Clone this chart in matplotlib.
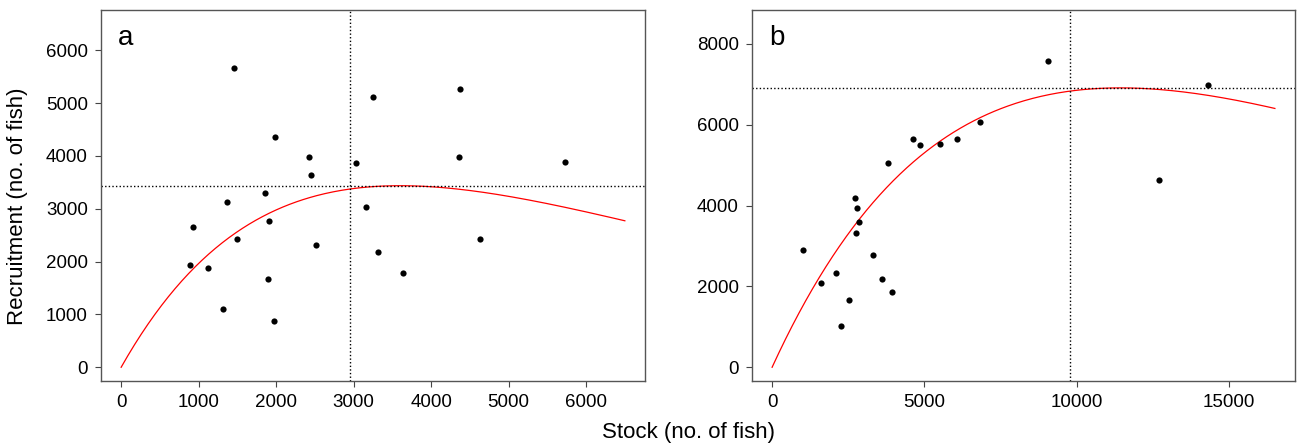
import numpy as np
import matplotlib.pyplot as plt

# Stock-recruitment data, population a
stock_a = [1450, 3250, 4370, 1985, 2425, 2445, 3035, 4360, 5730, 1850, 1370, 3160,
           930, 1905, 1495, 2520, 4630, 3315, 890, 1115, 3640, 1890, 1320, 1970]
recruit_a = [5670, 5110, 5260, 4350, 3980, 3630, 3870, 3980, 3875, 3300, 3120, 3030,
             2645, 2765, 2420, 2320, 2425, 2190, 1940, 1885, 1790, 1675, 1100, 875]

# Stock-recruitment data, population b
stock_b = [9040, 14290, 6820, 4640, 4850, 5525, 6060, 3815, 12685, 2715, 2785,
           2855, 2760, 1030, 3325, 2110, 1605, 3600, 3940, 2530, 2270]
recruit_b = [7580, 6980, 6060, 5655, 5500, 5530, 5660, 5045, 4640, 4190, 3940,
             3605, 3325, 2900, 2790, 2330, 2075, 2180, 1850, 1655, 1020]

# Ricker fits R = alpha * S * exp(-beta * S)
alpha_a, beta_a = 2.594, 1 / 3600.0
alpha_b, beta_b = 1.644, 1 / 11430.0

# reference lines (stock, recruitment)
vline_a, hline_a = 2950, 3436
vline_b, hline_b = 9760, 6914

xmax_a, xmax_b = 6500, 16500
xticks_a = [0, 1000, 2000, 3000, 4000, 5000, 6000]
yticks_a = [0, 1000, 2000, 3000, 4000, 5000, 6000]
xticks_b = [0, 5000, 10000, 15000]
yticks_b = [0, 2000, 4000, 6000, 8000]

plt.rcParams['font.family'] = ['Liberation Sans', 'DejaVu Sans']

fig = plt.figure(figsize=(12.98, 4.45), dpi=100)
ax1 = fig.add_axes([101 / 1298, 64 / 445, 544 / 1298, 371 / 445])
ax2 = fig.add_axes([752 / 1298, 64 / 445, 543 / 1298, 371 / 445])


def panel(ax, S, R, alpha, beta, xmax, vl, hl, xt, yt, ylim, letter):
    s = np.linspace(0, xmax, 300)
    ax.plot(s, alpha * s * np.exp(-beta * s), color='red', lw=0.9)
    ax.scatter(S, R, s=20, color='black', zorder=3, linewidths=0)
    ax.axvline(vl, color='black', lw=1.0, ls=(0, (1, 1.6)))
    ax.axhline(hl, color='black', lw=1.0, ls=(0, (1, 1.6)))
    pad_x = 0.04 * xmax
    pad_y = 0.04 * ylim
    ax.set_xlim(-pad_x, xmax + pad_x)
    ax.set_ylim(-pad_y, ylim + pad_y)
    ax.set_xticks(xt)
    ax.set_yticks(yt)
    ax.tick_params(direction='out', length=4.5, width=0.8, color='#444444',
                   labelsize=13.5, pad=5)
    for sp in ax.spines.values():
        sp.set_color('#555555')
        sp.set_linewidth(1.0)
    ax.text(0.031, 0.905, letter, transform=ax.transAxes, fontsize=20)


panel(ax1, stock_a, recruit_a, alpha_a, beta_a, xmax_a, vline_a, hline_a,
      xticks_a, yticks_a, 6500, 'a')
panel(ax2, stock_b, recruit_b, alpha_b, beta_b, xmax_b, vline_b, hline_b,
      xticks_b, yticks_b, 8500, 'b')

fig.text(689 / 1298, 0.028, 'Stock (no. of fish)', ha='center', va='center', fontsize=16)
fig.text(18 / 1298, 1 - 206 / 445, 'Recruitment (no. of fish)', ha='center',
         va='center', rotation=90, fontsize=16)

fig.savefig('out.png', dpi=100)
